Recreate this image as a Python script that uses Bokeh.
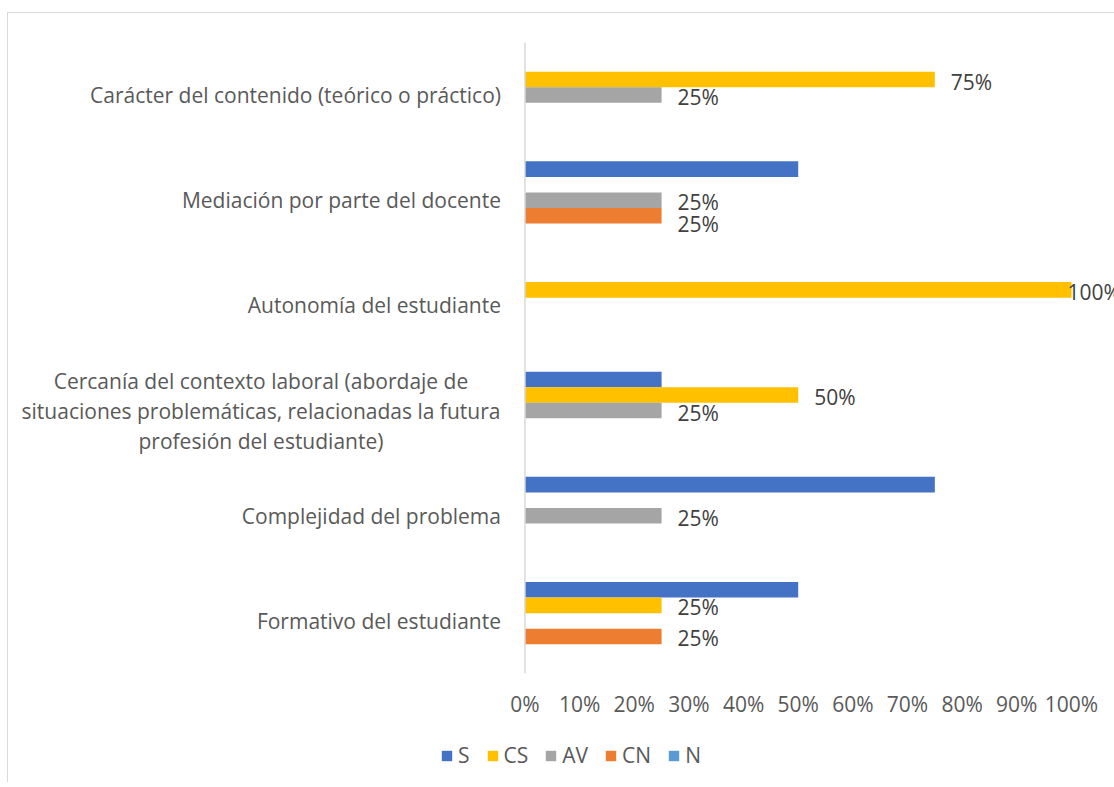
from bokeh.plotting import figure
from bokeh.layouts import column
from bokeh.models import ColumnDataSource, FactorRange, Range1d, FixedTicker, PrintfTickFormatter, Legend, LegendItem, Span
from bokeh.transform import dodge
from bokeh.core.properties import value
from bokeh.embed import file_html
from bokeh.resources import INLINE

categories = [
    "Carácter del contenido (teórico o práctico)",
    "Mediación por parte del docente",
    "Autonomía del estudiante",
    "Cercanía del contexto laboral (abordaje de\nsituaciones problemáticas, relacionadas la futura\nprofesión del estudiante)",
    "Complejidad del problema",
    "Formativo del estudiante",
]
series_names = ["S", "CS", "AV", "CN", "N"]
S = [0, 50, 0, 25, 75, 50]
CS = [75, 0, 100, 50, 0, 25]
AV = [25, 25, 0, 25, 25, 0]
CN = [0, 25, 0, 0, 0, 25]
N = [0, 0, 0, 0, 0, 0]
x_ticks = [0, 10, 20, 30, 40, 50, 60, 70, 80, 90, 100]

series_values = [S, CS, AV, CN, N]
colors = ["#4472C4", "#FFC000", "#A5A5A5", "#ED7D31", "#5B9BD5"]
labelled = [False, True, True, True, False]
FONT = "Open Sans"
FS = "21px"
BORDER = "1px solid #d9d9d9"

# layout: value axis 0..100 spans 546 px; frame also covers the category-label area
PX_PER_UNIT = 5.46
LEFT_PX = 516
RIGHT_PX = 590
p = figure(
    y_range=FactorRange(factors=list(reversed(categories))),
    x_range=Range1d(-LEFT_PX / PX_PER_UNIT, RIGHT_PX / PX_PER_UNIT),
    frame_width=LEFT_PX + RIGHT_PX, frame_height=630,
    min_border_left=0, min_border_right=0, min_border_top=29, min_border_bottom=60,
    output_backend="svg", toolbar_location=None,
    styles={"border-left": BORDER, "border-top": BORDER,
            "margin-left": "7px", "margin-top": "12px"},
)
p.outline_line_color = None
p.xgrid.grid_line_color = None
p.ygrid.grid_line_color = None
p.yaxis.visible = False

p.add_layout(Span(location=0, dimension="height", line_color="#d9d9d9", line_width=1.5))

bw = 0.148
offsets = [2 * bw, bw, 0.0, -bw, -2 * bw]
prev_vals = None
for name, vals, col, off, lab in zip(series_names, series_values, colors, offsets, labelled):
    src = ColumnDataSource(dict(cat=categories, v=vals))
    p.hbar(y=dodge("cat", off, range=p.y_range), right="v", left=0, height=bw,
           fill_color=col, line_color=None, source=src)
    if lab:
        rows = [i for i, v in enumerate(vals) if v > 0]
        cats = [categories[i] for i in rows]
        vs = [vals[i] for i in rows]
        # nudge a label down when the label just above it carries the same value
        yo = [8 if (prev_vals is not None and prev_vals[i] == vals[i]) else 2 for i in rows]
        lsrc = ColumnDataSource(dict(cat=cats, v=vs, t=[f"{v}%" for v in vs],
                                     xo=[16 if v < 100 else -4 for v in vs], yo=yo))
        p.text(x="v", y=dodge("cat", off, range=p.y_range), text="t", source=lsrc,
               x_offset="xo", y_offset="yo", text_baseline="middle", text_align="left",
               text_font=value(FONT), text_font_size=FS, text_color="#404040")
        prev_vals = vals
    else:
        prev_vals = None

# category labels
single = [c for c in categories if "\n" not in c]
multi = [c for c in categories if "\n" in c]
p.text(x=0, y="cat", text="cat", source=ColumnDataSource(dict(cat=single)),
       x_offset=-24, y_offset=0, text_align="right", text_baseline="middle",
       text_font=value(FONT), text_font_size=FS, text_color="#595959")
p.text(x=0, y="cat", text="cat", source=ColumnDataSource(dict(cat=multi)),
       x_offset=-264, y_offset=0, text_align="center", text_baseline="middle",
       text_line_height=1.07,
       text_font=value(FONT), text_font_size=FS, text_color="#595959")

p.xaxis.ticker = FixedTicker(ticks=x_ticks)
p.xaxis.formatter = PrintfTickFormatter(format="%d%%")
p.xaxis.axis_line_color = None
p.xaxis.major_tick_line_color = None
p.xaxis.minor_tick_line_color = None
p.xaxis.major_label_standoff = 10
p.xaxis.major_label_text_font = FONT
p.xaxis.major_label_text_font_size = FS
p.xaxis.major_label_text_color = "#595959"

# legend strip below the chart
lg = figure(width=LEFT_PX + RIGHT_PX, height=50, min_border=0,
            x_range=Range1d(0, 1), y_range=Range1d(0, 1),
            x_axis_type=None, y_axis_type=None,
            output_backend="svg", toolbar_location=None,
            styles={"border-left": BORDER, "margin-left": "7px"})
lg.outline_line_color = None
lg.xgrid.grid_line_color = None
lg.ygrid.grid_line_color = None
items = []
for name, col in zip(series_names, colors):
    # zero-size swatch carrier: only its colour is used, by the legend
    r = lg.quad(left=[0], right=[0], bottom=[0], top=[0], fill_color=col, line_color=None)
    items.append(LegendItem(label=name, renderers=[r]))
legend = Legend(items=items, orientation="horizontal", location=(432, 13),
                glyph_width=13, glyph_height=13, label_standoff=5, spacing=16, label_width=0,
                padding=0, margin=0, border_line_color=None, background_fill_alpha=0,
                label_text_font=FONT, label_text_font_size=FS, label_text_color="#595959")
lg.add_layout(legend, "center")

layout = column(p, lg, spacing=0)
open("out.html", "w").write(file_html(layout, INLINE))
